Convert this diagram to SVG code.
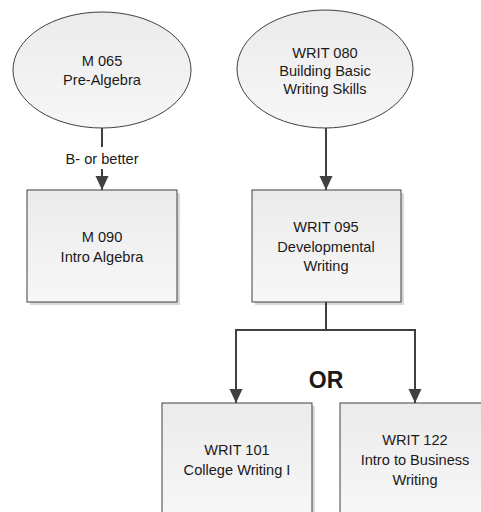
<svg xmlns="http://www.w3.org/2000/svg" width="481" height="512" viewBox="0 0 481 512">
<defs>
<linearGradient id="g" x1="0" y1="0" x2="0" y2="1">
<stop offset="0" stop-color="#ebebeb"/>
<stop offset="1" stop-color="#f7f7f7"/>
</linearGradient>
<marker id="arr" markerWidth="14" markerHeight="14" viewBox="0 0 14 14" refX="14" refY="6.5" orient="auto" markerUnits="userSpaceOnUse">
<path d="M0,0 L14,6.5 L0,13 Z" fill="#404040"/>
</marker>
</defs>
<style>
.shape{fill:url(#g);stroke:#404040;stroke-width:1}
.shadow{fill:#d9d9d9}
.t{font-family:"Liberation Sans",Arial,sans-serif;font-size:14.6px;fill:#1a1a1a;text-anchor:middle}
.or{font-family:"Liberation Sans",Arial,sans-serif;font-size:23px;font-weight:bold;fill:#1a1a1a;text-anchor:middle}
.c{fill:none;stroke:#404040;stroke-width:2}
</style>
<rect width="481" height="512" fill="#ffffff"/>
<g id="m065">
<ellipse class="shape" cx="102" cy="70" rx="89" ry="58"/>
<text class="t" x="102" y="66">M 065</text>
<text class="t" x="102" y="85">Pre-Algebra</text>
</g>
<g id="writ080">
<ellipse class="shape" cx="325" cy="69" rx="88" ry="59"/>
<text class="t" x="325" y="58">WRIT 080</text>
<text class="t" x="325" y="76">Building Basic</text>
<text class="t" x="325" y="94">Writing Skills</text>
</g>
<g id="m090">
<rect class="shadow" x="30" y="193" width="150" height="112"/>
<rect class="shape" x="27" y="190" width="150" height="112"/>
<text class="t" x="102" y="242">M 090</text>
<text class="t" x="102" y="262">Intro Algebra</text>
</g>
<g id="writ095">
<rect class="shadow" x="255" y="193" width="149" height="112"/>
<rect class="shape" x="252" y="190" width="149" height="112"/>
<text class="t" x="326" y="232">WRIT 095</text>
<text class="t" x="326" y="252">Developmental</text>
<text class="t" x="326" y="271">Writing</text>
</g>
<g id="writ101">
<rect class="shadow" x="165" y="406" width="150" height="112"/>
<rect class="shape" x="162" y="403" width="150" height="112"/>
<text class="t" x="237" y="455">WRIT 101</text>
<text class="t" x="237" y="475">College Writing I</text>
</g>
<g id="writ122">
<rect class="shadow" x="343" y="406" width="150" height="112"/>
<rect class="shape" x="340" y="403" width="150" height="112"/>
<text class="t" x="415" y="445">WRIT 122</text>
<text class="t" x="415" y="465">Intro to Business</text>
<text class="t" x="415" y="485">Writing</text>
</g>
<g id="connectors">
<path class="c" d="M102,128 V147" />
<path class="c" d="M102,169 V190" marker-end="url(#arr)"/>
<text class="t" x="102" y="164">B- or better</text>
<path class="c" d="M326,128 V190" marker-end="url(#arr)"/>
<path class="c" d="M326,302 V330 H236 V403" marker-end="url(#arr)"/>
<path class="c" d="M326,330 H415 V403" marker-end="url(#arr)"/>
<text class="or" x="326" y="388">OR</text>
</g>
</svg>
